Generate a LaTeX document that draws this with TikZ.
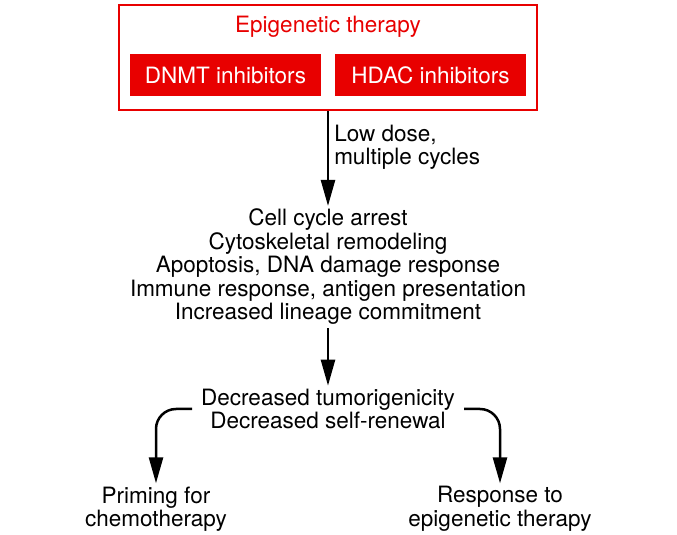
\documentclass[tikz,border=0pt]{standalone}
\usepackage{fontspec}
\setmainfont{TeX Gyre Heros}
\usetikzlibrary{arrows.meta,positioning}
\definecolor{epired}{RGB}{232,0,0}
\begin{document}
\begin{tikzpicture}[x=1pt,y=1pt,
  txt/.style={font=\fontsize{22.5}{23.5}\selectfont, align=center, inner sep=3pt},
  redbox/.style={fill=epired, text=white, minimum width=191pt, minimum height=42pt, inner sep=0pt, font=\fontsize{22.5}{23.5}\selectfont},
  arr/.style={line width=2.5pt, -{Triangle[length=26pt,width=14pt]}},
]
\useasboundingbox (0,0) rectangle (677,535);
\node[draw=epired, line width=2pt, minimum width=418pt, minimum height=105pt, inner sep=0pt] (outer) at (328,477) {};
\node[text=epired, font=\fontsize{22.5}{23.5}\selectfont] (title) at (328,508) {Epigenetic therapy};
\node[redbox] (dnmt) at (225.5,460) {DNMT inhibitors};
\node[redbox] (hdac) at (430.5,460) {HDAC inhibitors};
\node[txt] (mid) at (328,268) {Cell cycle arrest\\Cytoskeletal remodeling\\Apoptosis, DNA damage response\\Immune response, antigen presentation\\Increased lineage commitment};
\node[txt] (dec) at (328,126) {Decreased tumorigenicity\\Decreased self-renewal};
\node[txt] (prim) at (156,26) {Priming for\\chemotherapy};
\node[txt] (resp) at (500,26) {Response to\\epigenetic therapy};
\draw[arr] (outer.south -| 328,0) -- node[right=2pt, txt, align=left, pos=0.38]{Low dose,\\multiple cycles} (mid.north -| 328,0);
\draw[arr] (mid.south -| 328,0) -- (dec.north -| 328,0);
\draw[arr, rounded corners=20pt] ([xshift=-6pt]dec.west) -| (prim.north);
\draw[arr, rounded corners=20pt] ([xshift=6pt]dec.east) -| (resp.north);
\end{tikzpicture}
\end{document}
